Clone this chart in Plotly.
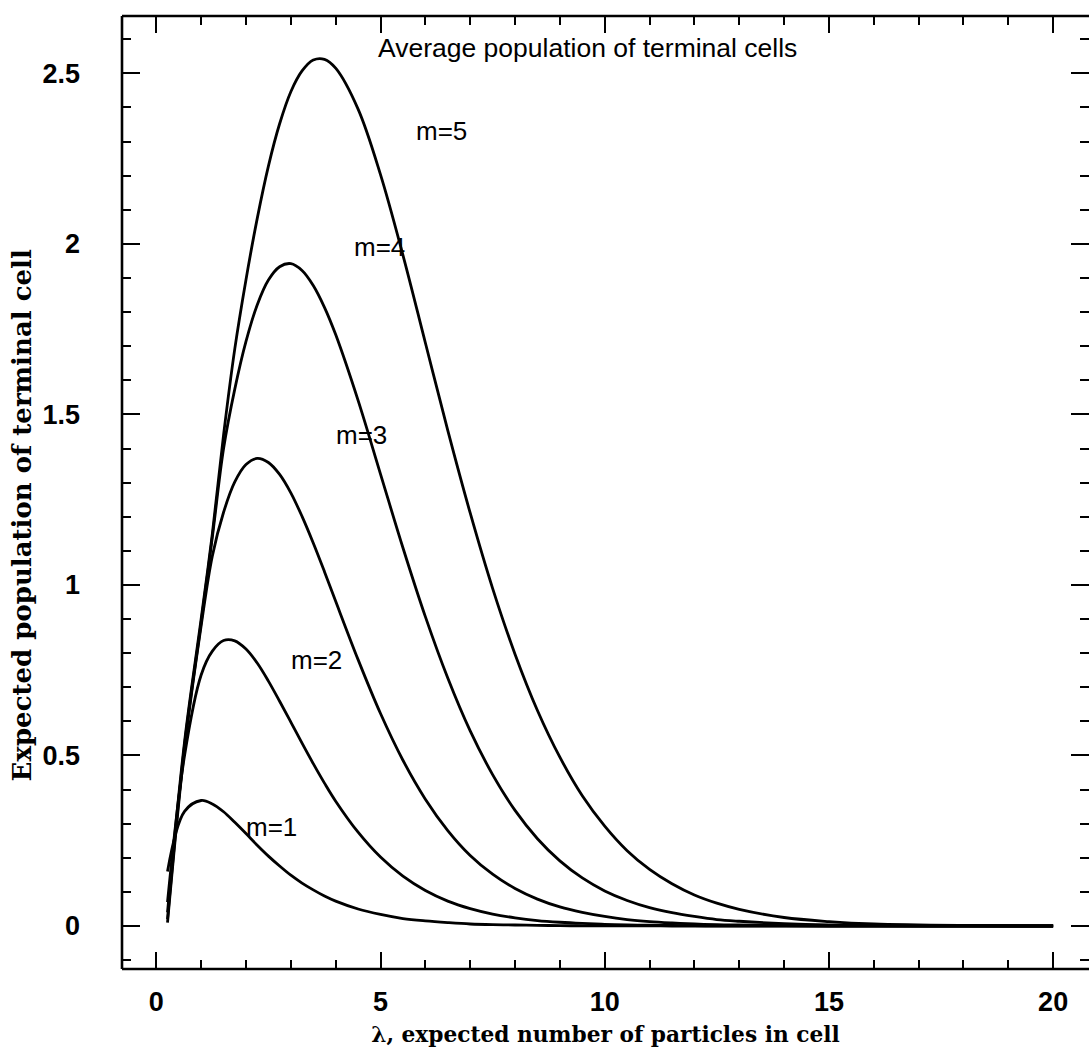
import plotly.graph_objects as go

# lambda sample points (expected number of particles in cell)
lam = [0.25, 0.63, 1.0, 1.25, 1.5, 1.75, 2.0, 2.25, 2.5, 2.75, 3.0, 3.25, 3.5, 3.75,
       4.0, 4.5, 5.0, 5.5, 6.0, 6.5, 7.0, 7.5, 8.0, 8.5, 9.0, 9.5, 10.0, 10.5, 11.0,
       11.5, 12.0, 12.5, 13.0, 14.0, 15.0, 16.0, 18.0, 20.0]

# expected population of a terminal cell for bucket capacity m
pop_m1 = [0.16, 0.336, 0.368, 0.358, 0.335, 0.304, 0.271, 0.237, 0.205, 0.176, 0.149, 0.126,
          0.106, 0.088, 0.073, 0.050, 0.034, 0.022, 0.015, 0.010, 0.006, 0.004, 0.003, 0.002,
          0.001, 0.0007, 0.0005, 0.0003, 0.0002, 0.0001, 0.0001, 0.0, 0.0, 0.0, 0.0, 0.0,
          0.0, 0.0]
pop_m2 = [0.07, 0.50, 0.736, 0.806, 0.837, 0.836, 0.812, 0.771, 0.718, 0.659, 0.598, 0.536,
          0.476, 0.419, 0.366, 0.275, 0.202, 0.146, 0.104, 0.073, 0.051, 0.035, 0.024, 0.016,
          0.011, 0.0075, 0.005, 0.0033, 0.0022, 0.0015, 0.001, 0.0006, 0.0004, 0.0002,
          0.0001, 0.0, 0.0, 0.0]
pop_m3 = [0.01, 0.52, 0.88, 1.085, 1.213, 1.302, 1.353, 1.371, 1.359, 1.324, 1.270, 1.201,
          1.123, 1.039, 0.952, 0.781, 0.623, 0.486, 0.372, 0.280, 0.207, 0.152, 0.110, 0.079,
          0.056, 0.040, 0.028, 0.019, 0.013, 0.009, 0.006, 0.004, 0.003, 0.0013, 0.0006,
          0.0003, 0.0, 0.0]
pop_m4 = [0.02, 0.53, 0.89, 1.14, 1.40, 1.574, 1.714, 1.821, 1.894, 1.933, 1.942, 1.922,
          1.878, 1.814, 1.734, 1.541, 1.325, 1.109, 0.907, 0.727, 0.572, 0.444, 0.339, 0.256,
          0.191, 0.141, 0.103, 0.075, 0.054, 0.039, 0.028, 0.019, 0.014, 0.007, 0.003,
          0.0015, 0.0003, 0.0]
pop_m5 = [0.04, 0.54, 0.90, 1.15, 1.44, 1.692, 1.895, 2.074, 2.228, 2.352, 2.446, 2.507,
          2.539, 2.541, 2.515, 2.395, 2.203, 1.967, 1.710, 1.453, 1.211, 0.990, 0.797, 0.632,
          0.495, 0.382, 0.293, 0.221, 0.166, 0.124, 0.091, 0.067, 0.049, 0.025, 0.013,
          0.006, 0.0015, 0.0003]

series = [pop_m1, pop_m2, pop_m3, pop_m4, pop_m5]

# curve labels: text, lambda, value
label_text = ["m=1", "m=2", "m=3", "m=4", "m=5"]
label_x = [2.56, 3.57, 4.57, 4.97, 6.37]
label_y = [0.29, 0.78, 1.44, 1.99, 2.33]

x_ticks = [0, 5, 10, 15, 20]
y_ticks = [0, 0.5, 1, 1.5, 2, 2.5]
y_tick_text = ["0", "0.5", "1", "1.5", "2", "2.5"]

fig = go.Figure()
for vals in series:
    fig.add_trace(go.Scatter(
        x=lam, y=vals, mode="lines",
        line=dict(color="black", width=2.8, shape="spline", smoothing=1.0),
        showlegend=False, hoverinfo="skip",
    ))

sans = "Liberation Sans, Arial, sans-serif"
serif = "DejaVu Serif, serif"

for t, x, y in zip(label_text, label_x, label_y):
    fig.add_annotation(x=x, y=y, text=t, showarrow=False,
                       font=dict(family=sans, size=26, color="black"))

fig.add_annotation(x=9.62, y=2.574, text="Average population of terminal cells",
                   showarrow=False, font=dict(family=sans, size=26.5, color="black"))

# vertical axis title, placed as a rotated annotation
fig.add_annotation(xref="paper", yref="paper", x=-0.1034, y=0.476,
                   xanchor="center", yanchor="middle",
                   text="<b>Expected population of terminal cell</b>", textangle=-90,
                   showarrow=False, font=dict(family=serif, size=26, color="black"))

tick_font = dict(family=sans, size=27, color="black", weight="bold")

fig.update_xaxes(
    range=[-0.765, 20.80], tickvals=x_ticks, ticktext=[str(v) for v in x_ticks],
    ticks="inside", ticklen=17, tickwidth=2.2, tickcolor="black",
    minor=dict(dtick=1, tick0=0, ticks="inside", ticklen=9, tickwidth=2, tickcolor="black"),
    showline=False, mirror="ticks", showgrid=False, zeroline=False,
    tickfont=tick_font, ticklabelstandoff=14,
    title=dict(text="<b>λ, expected number of particles in cell</b>",
               font=dict(family=serif, size=21.7, color="black"), standoff=10),
)
fig.update_yaxes(
    range=[-0.126, 2.668], tickvals=y_ticks, ticktext=y_tick_text,
    ticks="inside", ticklen=18, tickwidth=2.2, tickcolor="black",
    minor=dict(dtick=0.1, tick0=0, ticks="inside", ticklen=9, tickwidth=2, tickcolor="black"),
    showline=False, mirror="ticks", showgrid=False, zeroline=False,
    tickfont=tick_font, ticklabelstandoff=41,
)

# frame on the left, top and bottom edges
for x0, y0, x1, y1 in [(0, 0, 0, 1), (0, 1, 1, 1), (0, 0, 1, 0)]:
    fig.add_shape(type="line", xref="paper", yref="paper", x0=x0, y0=y0, x1=x1, y1=y1,
                  line=dict(color="black", width=2.6))

fig.update_layout(
    width=1089, height=1048,
    margin=dict(l=122, r=0, t=16, b=79),
    plot_bgcolor="white", paper_bgcolor="white",
)

fig.write_html("out.html")
